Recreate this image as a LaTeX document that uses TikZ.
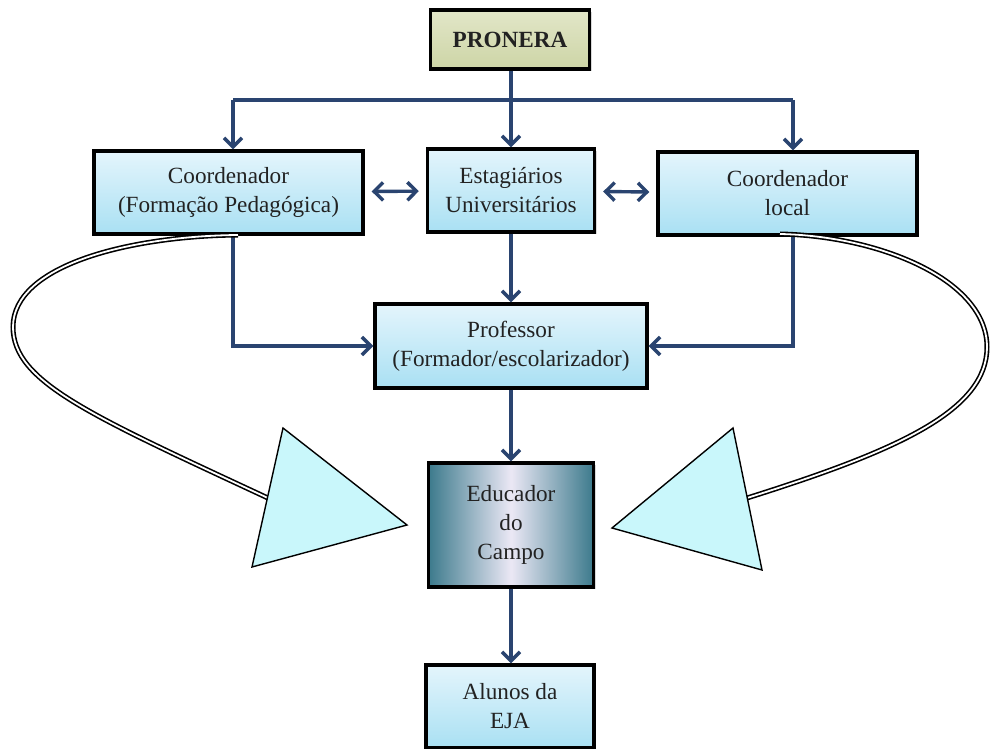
\documentclass[tikz,border=0pt]{standalone}
\usepackage{fontspec}
\setmainfont{Liberation Serif}
\usetikzlibrary{arrows.meta,shadows}
\definecolor{navy}{HTML}{2A4470}
\definecolor{boxtop}{HTML}{E4F5FC}
\definecolor{boxbot}{HTML}{A9E0F3}
\definecolor{prontop}{HTML}{E2E6C8}
\definecolor{pronbot}{HTML}{CDD5A6}
\definecolor{eduteal}{HTML}{3C7A8C}
\definecolor{edulight}{HTML}{EBE8F5}
\definecolor{headcyan}{HTML}{C9F7FB}
\definecolor{textgray}{HTML}{222222}
\tikzset{
  box/.style={draw=black, line width=1.7pt, top color=boxtop, bottom color=boxbot,
    align=center, inner sep=2pt, text=textgray, font=\fontsize{11.6}{14.5}\selectfont,
    drop shadow={opacity=0.3, shadow xshift=1.2pt, shadow yshift=-1.2pt}},
  link/.style={draw=navy, line width=1.7pt, >={Straight Barb[length=4.5pt,width=9pt]}},
  bigarc/.style={draw=black, double=white, line width=0.8pt, double distance=0.9pt},
  bighead/.style={draw=black, fill=headcyan, line width=0.7pt, line join=miter},
}
\begin{document}
\begin{tikzpicture}[x=0.5pt, y=-0.5pt]
  \useasboundingbox (0,0) rectangle (993,749);

  \node [box, top color=prontop, bottom color=pronbot, minimum width=79.5pt, minimum height=29.5pt,
    font=\fontsize{11.6}{14.5}\selectfont\bfseries] (pronera) at (510,39.5) {PRONERA};
  \node [box, minimum width=134.5pt, minimum height=41.5pt] (coordA) at (228.5,192.5) {Coordenador\\(Formação Pedagógica)};
  \node [box, minimum width=83.5pt, minimum height=41.5pt] (estag) at (511,190.5) {Estagiários\\Universitários};
  \node [box, minimum width=129.5pt, minimum height=41.5pt] (coordB) at (787.5,193.5) {Coordenador\\local};
  \node [box, minimum width=136pt, minimum height=42pt] (prof) at (511,346) {Professor\\(Formador/escolarizador)};
  \node [box, left color=eduteal, right color=eduteal, middle color=edulight,
    minimum width=82.5pt, minimum height=62pt] (educ) at (511,525) {Educador\\do\\Campo};
  \node [box, minimum width=84pt, minimum height=41.5pt] (alunos) at (510,706.5) {Alunos da\\EJA};

  \coordinate (tl) at (233,100);
  \coordinate (tr) at (793,100);
  \draw [link] (tl) -- (tr);
  \draw [link, ->] (estag |- pronera.south) -- (estag.north);
  \draw [link, ->] (tl) -- (tl |- coordA.north);
  \draw [link, ->] (tr) -- (tr |- coordB.north);
  \draw [link, <->, shorten <=3.5pt, shorten >=3.5pt] (coordA) -- (estag);
  \draw [link, <->, shorten <=3.5pt, shorten >=3.5pt] (estag) -- (coordB);
  \draw [link, ->] (estag) -- (prof);
  \draw [link, ->] (tl |- coordA.south) |- (prof.west);
  \draw [link, ->] (tr |- coordB.south) |- (prof.east);
  \draw [link, ->] (prof) -- (educ);
  \draw [link, ->] (educ) -- (educ |- alunos.north);

  \draw [bigarc] (238,235) .. controls (130,236) and (13,265) .. (13,327)
    .. controls (13,382) and (90,415) .. (270,499);
  \filldraw [bighead] (283,428) -- (407,525) -- (252,567) -- cycle;
  \draw [bigarc] (780,234) .. controls (880,236) and (987,280) .. (987,347)
    .. controls (987,410) and (900,450) .. (747,498);
  \filldraw [bighead] (733,428) -- (612,528) -- (762,570) -- cycle;
\end{tikzpicture}
\end{document}
